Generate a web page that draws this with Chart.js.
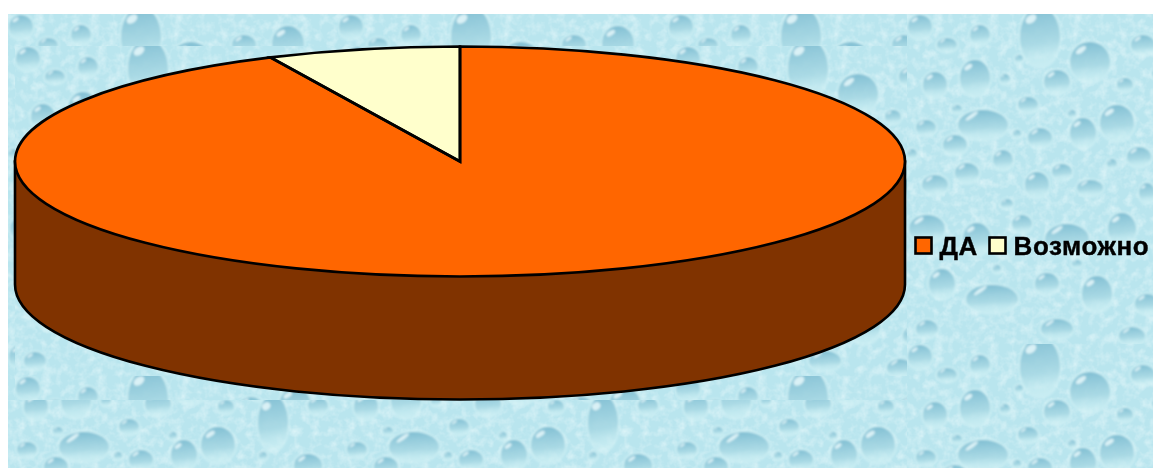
<!DOCTYPE html>
<html>
<head>
<meta charset="utf-8">
<script src="https://cdn.jsdelivr.net/npm/chart.js@4"></script>
<style>
html, body { margin: 0; padding: 0; background: #fff; overflow: hidden; }
#wrap { position: relative; width: 1153px; height: 468px; }
.bg { position: absolute; background-color: #bde8f0; }
canvas { position: absolute; left: 0; top: 0; }
</style>
</head>
<body>
<div id="wrap">
  <div class="bg" style="left:8px;top:14px;width:1145px;height:454px;background-position:0 0"></div>
  <div class="bg" style="left:15px;top:46px;width:892px;height:354px;background-position:0 0"></div>
  <div class="bg" style="left:907px;top:14px;width:246px;height:454px;background-position:0 0"></div>
  <div class="bg" style="left:8px;top:400px;width:899px;height:68px;background-position:0 -64px"></div>
  <canvas id="myChart" width="1153" height="468"></canvas>
</div>
<script>
var labels = ['ДА', 'Возможно'];
var values = [93, 7];
var colors = ['#ff6600', '#ffffcc'];

var wallColor = '#803300';
var pieX = 460, pieY = 161.5, pieRx = 445, pieRy = 115, pieDepth = 123;

// water drops of the background tile: x, y, rx, ry
var drops = [
  [133,23,20,30],[183,48,20,20],[68,64,15,18],[150,68,13,12],[28,71,12,13],[76,111,25,15],
  [210,109,17,18],[176,119,13,15],[121,91,10,8],[218,71,8,7],[73,21,10,10],[13,13,12,12],
  [40,31,10,7],[236,31,12,10],[19,114,10,8],[133,124,12,10],[48,131,12,10],[96,146,10,10],
  [232,143,12,10],[28,171,13,10],[60,159,12,10],[130,171,12,13],[155,158,10,8],[183,174,13,8],
  [240,179,8,10],[265,87,15,28],[280,30,16,18],[300,130,14,12],[310,70,10,9],[270,170,15,14],
  [315,190,11,10],[20,215,18,14],[70,225,14,16],[115,210,10,9],[160,225,22,15],[215,215,14,16],
  [265,235,18,13],[310,245,12,14],[35,270,13,15],[85,285,26,14],[140,270,12,11],[190,280,15,18],
  [240,290,12,10],[295,295,18,15],[20,315,11,9],[150,315,16,10],[225,322,13,9],
  [98,65,5,5],[112,45,4,4],[100,190,6,5],[205,150,5,5],[255,120,4,4],[50,95,5,4],[90,255,4,4],
  [165,100,4,4],[5,140,5,5],[285,210,4,4],[110,120,4,4],[250,60,5,5],[170,250,5,4]
];

function tileSvg() {
  var s = '<svg xmlns="http://www.w3.org/2000/svg" width="330" height="330">' +
    '<defs><linearGradient id="g" x1="0.4" y1="0" x2="0.5" y2="1">' +
    '<stop offset="0" stop-color="#7dbcd1" stop-opacity="0.95"/>' +
    '<stop offset="0.6" stop-color="#9cd1df" stop-opacity="0.7"/>' +
    '<stop offset="1" stop-color="#bde8f0" stop-opacity="0"/></linearGradient>' +
    '<filter id="b"><feGaussianBlur stdDeviation="1"/></filter>' +
    '<filter id="n" x="0" y="0" width="100%" height="100%">' +
    '<feTurbulence type="fractalNoise" baseFrequency="0.11" numOctaves="3" seed="4" stitchTiles="stitch"/>' +
    '<feColorMatrix values="0 0 0 0 0.86  0 0 0 0 0.97  0 0 0 0 0.98  1.2 0 0 0 -0.5"/>' +
    '</filter></defs>' +
    '<rect width="330" height="330" fill="#b9e5ee"/>' +
    '<rect width="330" height="330" filter="url(#n)"/><g filter="url(#b)">';
  for (var item of drops) {
    var x = item[0], y = item[1], rx = item[2], ry = item[3];
    s += '<ellipse cx="' + x + '" cy="' + y + '" rx="' + (rx + 2) + '" ry="' + (ry + 2) + '" fill="#d2f1f5" fill-opacity="0.6"/>';
    s += '<ellipse cx="' + x + '" cy="' + y + '" rx="' + rx + '" ry="' + ry + '" fill="url(#g)"/>';
    s += '<ellipse cx="' + (x - rx * 0.45) + '" cy="' + (y - ry * 0.6) + '" rx="' + (rx * 0.3) + '" ry="' + (ry * 0.13) +
      '" fill="#e6f8fa" fill-opacity="0.85" transform="rotate(-35 ' + (x - rx * 0.45) + ' ' + (y - ry * 0.6) + ')"/>';
  }
  s += '</g></svg>';
  return 'url("data:image/svg+xml,' + encodeURIComponent(s) + '")';
}

var tile = tileSvg();
document.querySelectorAll('.bg').forEach(function (el) { el.style.backgroundImage = tile; });

function squash(ctx, arc) {
  ctx.translate(pieX, pieY);
  ctx.scale(pieRx / arc.outerRadius, pieRy / arc.outerRadius);
  ctx.translate(-arc.x, -arc.y);
}

var pie3d = {
  id: 'pie3d',
  beforeDatasetsDraw: function (chart) {
    var ctx = chart.ctx;
    // side wall under the top face
    ctx.save();
    ctx.beginPath();
    ctx.moveTo(pieX - pieRx, pieY);
    ctx.lineTo(pieX - pieRx, pieY + pieDepth);
    ctx.ellipse(pieX, pieY + pieDepth, pieRx, pieRy, 0, Math.PI, 0, true);
    ctx.lineTo(pieX + pieRx, pieY);
    ctx.closePath();
    ctx.fillStyle = wallColor;
    ctx.fill();
    ctx.strokeStyle = '#000';
    ctx.lineWidth = 2.6;
    ctx.stroke();
    ctx.restore();
    ctx.save();
    squash(ctx, chart.getDatasetMeta(0).data[0]);
  },
  afterDatasetsDraw: function (chart) {
    var ctx = chart.ctx;
    ctx.restore();
    // outlines are stroked outside the squash so the pen stays even
    ctx.save();
    ctx.strokeStyle = '#000';
    ctx.lineWidth = 2.7;
    ctx.lineJoin = 'miter';
    chart.getDatasetMeta(0).data.forEach(function (arc) {
      ctx.beginPath();
      ctx.moveTo(pieX, pieY);
      ctx.ellipse(pieX, pieY, pieRx, pieRy, 0, arc.startAngle, arc.endAngle);
      ctx.closePath();
      ctx.stroke();
    });
    ctx.restore();

    // legend, one row beside the pie
    ctx.save();
    ctx.font = 'bold 26px "Liberation Sans", Arial, sans-serif';
    ctx.letterSpacing = '0.6px';
    ctx.textBaseline = 'alphabetic';
    var boxX = [915.5, 989.5];
    labels.forEach(function (label, i) {
      ctx.fillStyle = colors[i];
      ctx.fillRect(boxX[i], 237.5, 16, 16);
      ctx.strokeStyle = '#000';
      ctx.lineWidth = 2.6;
      ctx.strokeRect(boxX[i], 237.5, 16, 16);
      ctx.fillStyle = '#000';
      ctx.strokeStyle = '#000';
      ctx.lineWidth = 0.4;
      ctx.fillText(label, boxX[i] + 24, 255);
      ctx.strokeText(label, boxX[i] + 24, 255);
    });
    ctx.restore();
  }
};

var ctx = document.getElementById('myChart').getContext('2d');
var myChart = new Chart(ctx, {
  type: 'pie',
  data: {
    labels: labels,
    datasets: [{
      data: values,
      backgroundColor: colors,
      borderWidth: 0
    }]
  },
  options: {
    responsive: false,
    animation: false,
    plugins: {
      legend: { display: false },
      title: { display: false },
      tooltip: { enabled: false }
    }
  },
  plugins: [pie3d]
});
</script>
</body>
</html>
